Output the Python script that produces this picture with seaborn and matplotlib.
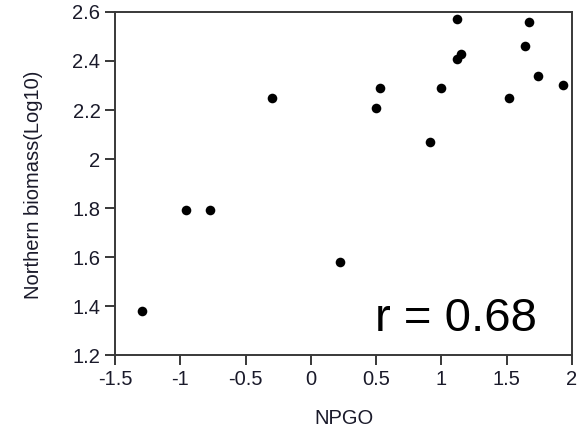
import matplotlib
matplotlib.use("Agg")
import matplotlib.pyplot as plt
import seaborn as sns
import pandas as pd

npgo = [-1.29, -0.96, -0.77, -0.30, 0.22, 0.50, 0.53, 0.91, 1.00, 1.12, 1.12, 1.15,
        1.52, 1.64, 1.67, 1.74, 1.93]
biomass = [1.38, 1.79, 1.79, 2.25, 1.58, 2.21, 2.29, 2.07, 2.29, 2.57, 2.41, 2.43,
           2.25, 2.46, 2.56, 2.34, 2.30]
x_ticks = [-1.5, -1, -0.5, 0, 0.5, 1, 1.5, 2]
x_tick_labels = ["-1.5", "-1", "-0.5", "0", "0.5", "1", "1.5", "2"]
y_ticks = [1.2, 1.4, 1.6, 1.8, 2.0, 2.2, 2.4, 2.6]
y_tick_labels = ["1.2", "1.4", "1.6", "1.8", "2", "2.2", "2.4", "2.6"]
r_text = "r = 0.68"

sns.set_theme(style="ticks")
plt.rcParams['font.family'] = ['Liberation Sans', 'DejaVu Sans']

df = pd.DataFrame({"NPGO": npgo, "biomass": biomass})

fig = plt.figure(figsize=(5.85, 4.33), dpi=100)
ax = fig.add_axes([0.1966, 0.1801, 0.9778 - 0.1966, 0.9723 - 0.1801])
sns.scatterplot(data=df, x="NPGO", y="biomass", ax=ax, color="black",
                s=48, edgecolor="black", linewidth=0, legend=False)

ax.set_xlim(-1.5, 2)
ax.set_ylim(1.2, 2.6)
ax.set_xticks(x_ticks)
ax.set_xticklabels(x_tick_labels)
ax.set_yticks(y_ticks)
ax.set_yticklabels(y_tick_labels)

for sp in ax.spines.values():
    sp.set_visible(True)
    sp.set_color("#383838")
    sp.set_linewidth(1.4)

ax.tick_params(axis="both", direction="out", length=7.5, width=1.4, color="#383838",
               labelsize=14.5, labelcolor="#1a1a2a", pad=3)
ax.set_xlabel("NPGO", fontsize=14.5, color="#1a1a2a")
ax.set_ylabel("Northern biomass(Log10)", fontsize=14.5, color="#1a1a2a")
ax.xaxis.set_label_coords(0.502, -0.157)
ax.yaxis.set_label_coords(-0.158, 0.497)

ax.text(0.49, 1.30, r_text, fontsize=34, color="black", ha="left", va="baseline")

fig.savefig("out.png", dpi=100)
